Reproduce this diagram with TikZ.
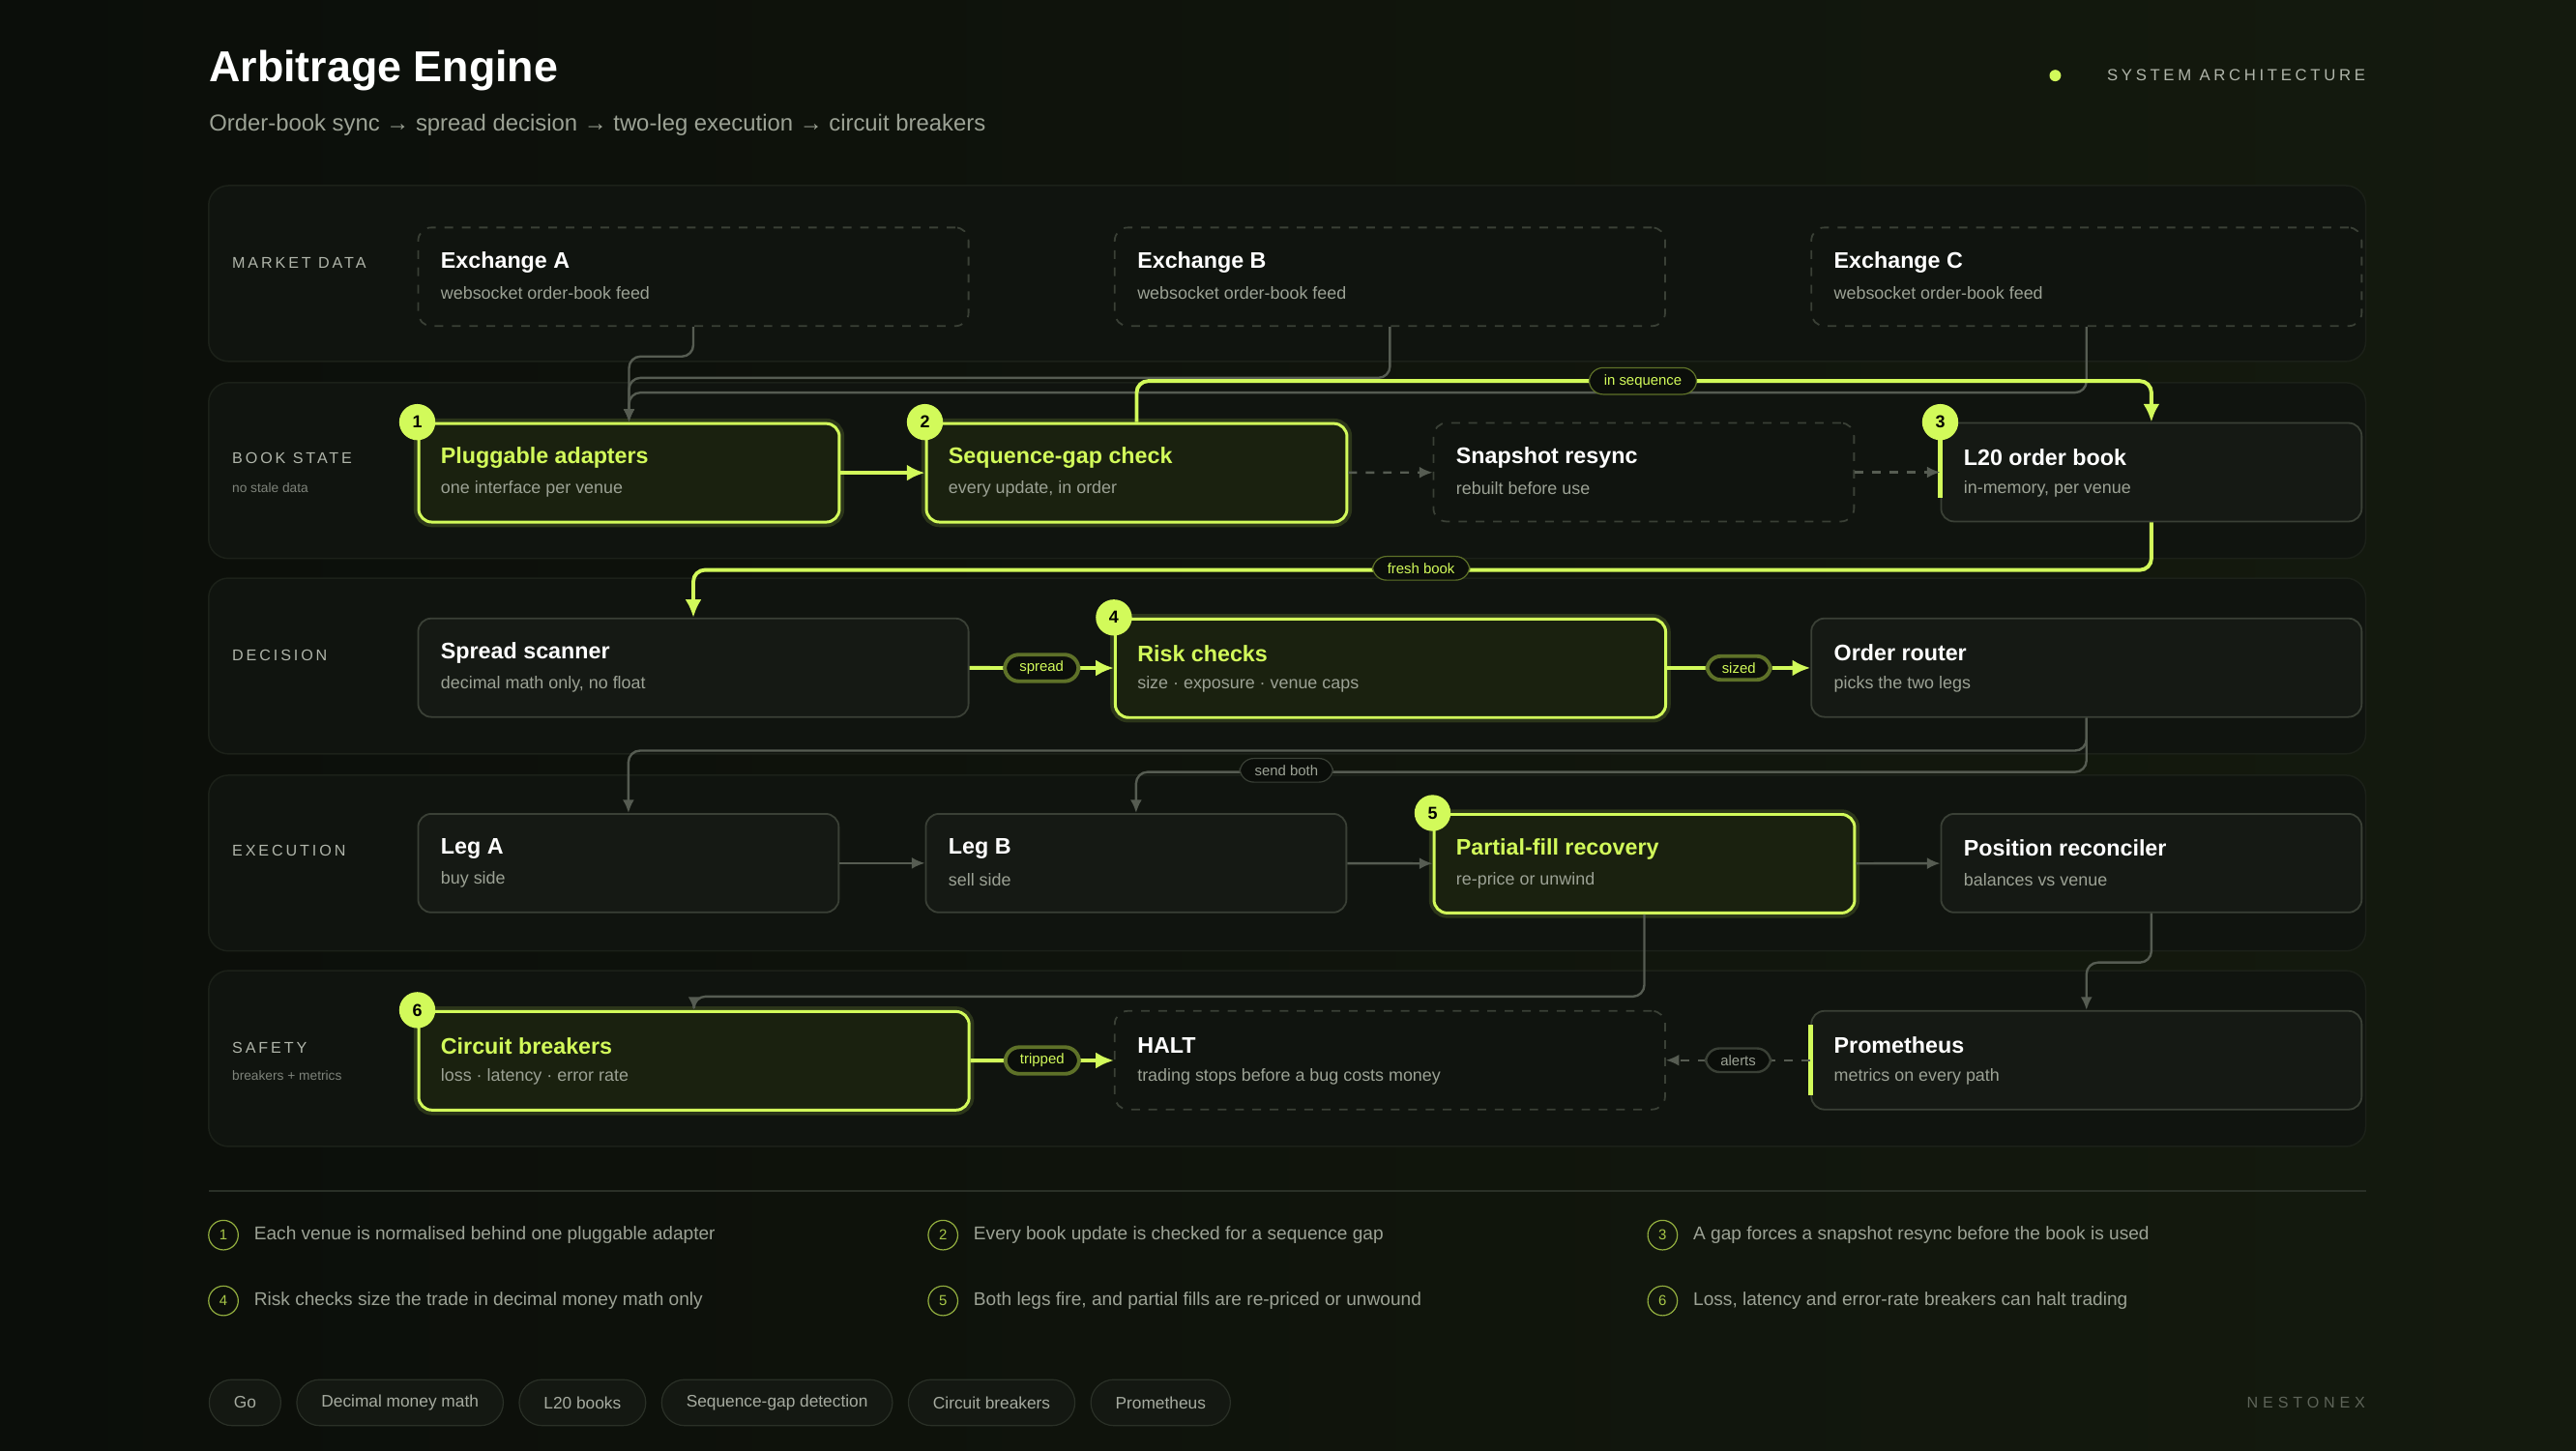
\documentclass[tikz,border=0pt]{standalone}
\usepackage{fontspec}
\setmainfont{Liberation Sans}
\usetikzlibrary{arrows.meta,positioning}
\definecolor{bg}{HTML}{0B0E0A}
\definecolor{bgright}{HTML}{141A0E}
\definecolor{lanefill}{HTML}{10140F}
\definecolor{laneline}{HTML}{1C2119}
\definecolor{pillline}{HTML}{2A3027}
\definecolor{pillfill}{HTML}{141812}
\definecolor{boxfill}{HTML}{151914}
\definecolor{boxline}{HTML}{3A4036}
\definecolor{lime}{HTML}{D2FA5A}
\definecolor{hifill}{HTML}{1A210F}
\definecolor{txt}{HTML}{9CA295}
\definecolor{dim}{HTML}{5E6459}
\definecolor{wire}{HTML}{565C52}
\newcommand\fs[1]{\fontsize{#1}{#1}\selectfont}
\newcommand\spaced{\addfontfeatures{LetterSpace=18}}
% box with a title and a second line
\newcommand\stage[7]{%
  \node[#5,minimum width=#4*0.02cm,anchor=north west] (#1) at (#2,#3) {};
  \node[ttl,anchor=west] at ([xshift=0.28cm,yshift=0.18cm]#1.west) {#6};
  \node[sub,anchor=west] at ([xshift=0.28cm,yshift=-0.2cm]#1.west) {#7};}
\tikzset{
  lane/.style={fill=lanefill,draw=laneline,line width=0.5pt,rounded corners=0.24cm},
  lanelbl/.style={anchor=west,text=txt!80,font=\fs{5.4}\spaced,inner sep=0pt},
  lanesub/.style={anchor=west,text=dim!80,font=\fs{4.6},inner sep=0pt},
  plain/.style={draw=boxline,fill=boxfill,line width=0.6pt,rounded corners=0.16cm,minimum height=1.2cm},
  ghost/.style={plain,dashed,fill=lanefill},
  hot/.style={plain,draw=lime,fill=hifill,line width=1pt,
    preaction={draw=lime,draw opacity=0.15,line width=3.5pt}},
  ttl/.style={text=white!92,font=\fs{7.8}\bfseries,inner sep=0pt},
  sub/.style={text=txt,font=\fs{6},inner sep=0pt},
  badge/.style={circle,fill=lime,text=black,font=\fs{6}\bfseries,minimum size=0.44cm,inner sep=0pt},
  wire/.style={draw=wire,line width=0.8pt,rounded corners=0.14cm,-{Latex[length=0.16cm,width=0.14cm]}},
  flow/.style={wire,draw=lime,line width=1.3pt,-{Latex[length=0.22cm,width=0.2cm]}},
  skip/.style={wire,dashed},
  tag/.style={fill=bg,draw=lime!45!black,rounded corners=0.17cm,text=lime,font=\fs{5},inner xsep=0.18cm,inner ysep=0.08cm},
  graytag/.style={tag,draw=boxline,text=txt},
  num/.style={circle,draw=lime!70!black,text=lime!80!black,font=\fs{5},minimum size=0.36cm,inner sep=0pt},
  note/.style={anchor=west,text=txt,font=\fs{6.4},inner sep=0pt},
  pill/.style={draw=pillline,fill=pillfill,rounded corners=0.28cm,minimum height=0.56cm,inner xsep=0.3cm,text=txt!90,font=\fs{5.8}}
}
\begin{document}
\begin{tikzpicture}[x=0.02cm,y=-0.02cm]
	\shade[left color=bg,right color=bgright] (0,0) rectangle (1568,883);
	\useasboundingbox (0,0) rectangle (1568,883);
	
	%HEADER
	\node[anchor=west,text=white,font=\fs{15}\bfseries,inner sep=0pt] (title) at (127,43) {Arbitrage Engine};
	\node[anchor=west,text=txt,font=\fs{8},inner sep=0pt] (subtitle) at (127,76) {Order-book sync → spread decision → two-leg execution → circuit breakers};
	\node[anchor=east,text=txt!80,font=\fs{5.6}\addfontfeatures{LetterSpace=22},inner sep=0pt] (kind) at (1440,46) {SYSTEM ARCHITECTURE};
	\node[circle,fill=lime,minimum size=0.14cm,inner sep=0pt] (dot) at (1251,46) {};
	
	%LANES
	\draw[lane] (127,113) rectangle (1440,220);
	\draw[lane] (127,233) rectangle (1440,340);
	\draw[lane] (127,352) rectangle (1440,459);
	\draw[lane] (127,472) rectangle (1440,579);
	\draw[lane] (127,591) rectangle (1440,698);
	\node[lanelbl] at (141,160) {MARKET DATA};
	\node[lanelbl] at (141,279) {BOOK STATE};
	\node[lanesub] at (141,297) {no stale data};
	\node[lanelbl] at (141,399) {DECISION};
	\node[lanelbl] at (141,518) {EXECUTION};
	\node[lanelbl] at (141,638) {SAFETY};
	\node[lanesub] at (141,655) {breakers + metrics};
	
	%BOXES
	\stage{exA}{254}{138}{335}{ghost}{Exchange A}{websocket order-book feed}
	\stage{exB}{678}{138}{335}{ghost}{Exchange B}{websocket order-book feed}
	\stage{exC}{1102}{138}{335}{ghost}{Exchange C}{websocket order-book feed}
	%
	\stage{adapt}{254}{257}{256}{hot}{\textcolor{lime}{Pluggable adapters}}{one interface per venue}
	\stage{seq}{563}{257}{256}{hot}{\textcolor{lime}{Sequence-gap check}}{every update, in order}
	\stage{snap}{872}{257}{256}{ghost}{Snapshot resync}{rebuilt before use}
	\stage{book}{1181}{257}{256}{plain}{L20 order book}{in-memory, per venue}
	%
	\stage{scan}{254}{376}{335}{plain}{Spread scanner}{decimal math only, no float}
	\stage{risk}{678}{376}{335}{hot}{\textcolor{lime}{Risk checks}}{size · exposure · venue caps}
	\stage{router}{1102}{376}{335}{plain}{Order router}{picks the two legs}
	%
	\stage{legA}{254}{495}{256}{plain}{Leg A}{buy side}
	\stage{legB}{563}{495}{256}{plain}{Leg B}{sell side}
	\stage{fill}{872}{495}{256}{hot}{\textcolor{lime}{Partial-fill recovery}}{re-price or unwind}
	\stage{recon}{1181}{495}{256}{plain}{Position reconciler}{balances vs venue}
	%
	\stage{breaker}{254}{615}{335}{hot}{\textcolor{lime}{Circuit breakers}}{loss · latency · error rate}
	\stage{halt}{678}{615}{335}{ghost}{HALT}{trading stops before a bug costs money}
	\stage{prom}{1102}{615}{335}{plain}{Prometheus}{metrics on every path}
	
	\draw[lime,line width=1.5pt] ([yshift=-0.22cm]book.north west) -- ([yshift=0.3cm]book.south west);
	\draw[lime,line width=1.5pt] ([yshift=-0.18cm]prom.north west) -- ([yshift=0.18cm]prom.south west);
	
	%BADGES
	\node[badge] at (adapt.north west) {1};
	\node[badge] at (seq.north west) {2};
	\node[badge] at (book.north west) {3};
	\node[badge] at (risk.north west) {4};
	\node[badge] at (fill.north west) {5};
	\node[badge] at (breaker.north west) {6};
	
	%CONNECTORS
	\draw[wire] (exA.south) -- ++(0,18) -| (adapt.north);
	\draw[wire] (exB.south) -- ++(0,31) -| (adapt.north);
	\draw[wire] (exC.south) -- ++(0,40) -| (adapt.north);
	\draw[flow] (seq.north) -- ++(0,-25) -| (book.north);
	\node[tag] (insequence) at (1000,232) {in sequence};
	\draw[flow] (adapt) -- (seq);
	\draw[skip] (seq) -- (snap);
	\draw[skip] (snap) -- (book);
	\draw[flow] (book.south) -- ++(0,29) -| (scan.north);
	\node[tag] (fresh) at (865,346) {fresh book};
	%
	\draw[flow] (scan) -- node[tag] (spread) {spread} (risk);
	\draw[flow] (risk) -- node[tag] (sized) {sized} (router);
	\draw[wire] (router.south) -- ++(0,20) -| (legA.north);
	\draw[wire] (router.south) -- ++(0,33) -| (legB.north);
	\node[graytag] (both) at (783,469) {send both};
	%
	\draw[wire] (legA) -- (legB);
	\draw[wire] (legB) -- (fill);
	\draw[wire] (fill) -- (recon);
	\draw[wire] (fill.south) -- ++(0,50) -| (breaker.north);
	\draw[wire] (recon.south) -- ++(0,30) -| (prom.north);
	%
	\draw[flow] (breaker) -- node[tag] (tripped) {tripped} (halt);
	\draw[skip] (prom) -- node[graytag,solid] (alerts) {alerts} (halt);
	
	%NOTES
	\draw[pillline,line width=0.5pt] (127,725) -- (1440,725);
	\node[num] (n1) at (136,752) {1};
	\node[note,right=0.18cm of n1] {Each venue is normalised behind one pluggable adapter};
	\node[num] (n2) at (574,752) {2};
	\node[note,right=0.18cm of n2] {Every book update is checked for a sequence gap};
	\node[num] (n3) at (1012,752) {3};
	\node[note,right=0.18cm of n3] {A gap forces a snapshot resync before the book is used};
	\node[num] (n4) at (136,792) {4};
	\node[note,right=0.18cm of n4] {Risk checks size the trade in decimal money math only};
	\node[num] (n5) at (574,792) {5};
	\node[note,right=0.18cm of n5] {Both legs fire, and partial fills are re-priced or unwound};
	\node[num] (n6) at (1012,792) {6};
	\node[note,right=0.18cm of n6] {Loss, latency and error-rate breakers can halt trading};
	
	%STACK
	\node[pill,anchor=west] (go) at (127,854) {Go};
	\node[pill,right=0.18cm of go] (decimal) {Decimal money math};
	\node[pill,right=0.18cm of decimal] (books) {L20 books};
	\node[pill,right=0.18cm of books] (gap) {Sequence-gap detection};
	\node[pill,right=0.18cm of gap] (breakers) {Circuit breakers};
	\node[pill,right=0.18cm of breakers] (metrics) {Prometheus};
	\node[anchor=east,text=dim,font=\fs{5.4}\addfontfeatures{LetterSpace=30},inner sep=0pt] (brand) at (1440,854) {NESTONEX};
\end{tikzpicture}
\end{document}
